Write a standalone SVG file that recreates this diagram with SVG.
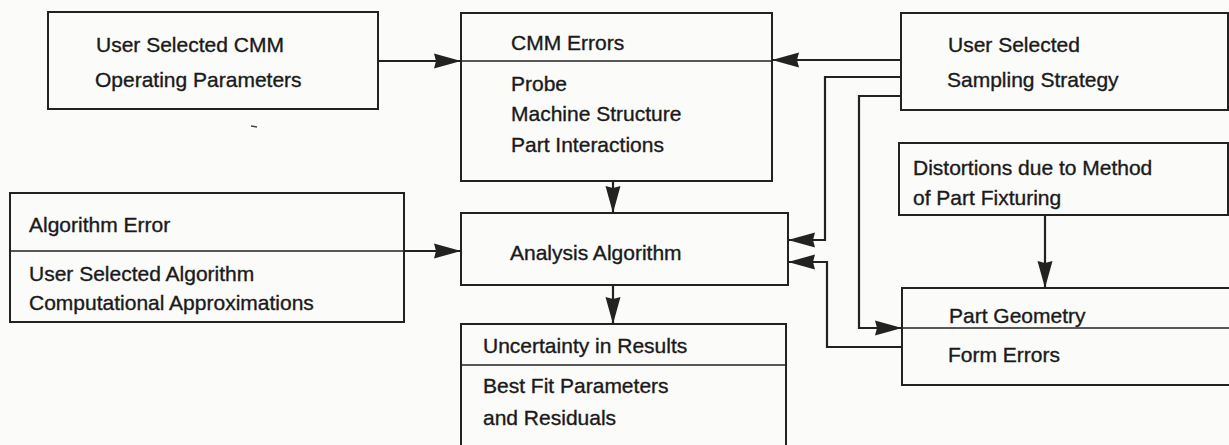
<svg xmlns="http://www.w3.org/2000/svg" width="1229" height="445" viewBox="0 0 1229 445">
  <style>
    .box { fill: none; stroke: #222; stroke-width: 2; }
    .div { stroke: #222; stroke-width: 1.6; }
    .wire { fill: none; stroke: #222; stroke-width: 2.2; }
    text { font-family: "Liberation Sans", Arial, Helvetica, sans-serif; font-size: 21px; fill: #1a1a1a; stroke: #1a1a1a; stroke-width: 0.35; }
  </style>
  <defs>
    <marker id="arrow" markerUnits="userSpaceOnUse" markerWidth="28" markerHeight="17" refX="27" refY="8" orient="auto">
      <path d="M0,0.5 L27,8 L0,15.5 L2,8 Z" fill="#222"/>
    </marker>
  </defs>

  <rect width="1229" height="445" fill="#fbfbf9"/>

  <!-- nodes -->
  <g id="cmm-params">
    <rect class="box" x="48" y="12" width="330" height="97"/>
    <text x="96" y="52">User Selected CMM</text>
    <text x="95" y="87">Operating Parameters</text>
  </g>

  <g id="cmm-errors">
    <rect class="box" x="461" y="13" width="311" height="168"/>
    <line class="div" x1="461" y1="61" x2="772" y2="61"/>
    <text x="511" y="50">CMM Errors</text>
    <text x="511" y="91">Probe</text>
    <text x="511" y="121">Machine Structure</text>
    <text x="511" y="152">Part Interactions</text>
  </g>

  <g id="sampling-strategy">
    <rect class="box" x="901" y="13" width="327" height="97"/>
    <text x="948" y="52">User Selected</text>
    <text x="947" y="87">Sampling Strategy</text>
  </g>

  <g id="fixturing">
    <rect class="box" x="899" y="143" width="329" height="72"/>
    <text x="913" y="175">Distortions due to Method</text>
    <text x="913" y="205">of Part Fixturing</text>
  </g>

  <g id="algorithm-error">
    <rect class="box" x="10" y="193" width="394" height="129"/>
    <line class="div" x1="10" y1="251" x2="404" y2="251"/>
    <text x="29" y="232">Algorithm Error</text>
    <text x="29" y="281">User Selected Algorithm</text>
    <text x="29" y="310">Computational Approximations</text>
  </g>

  <g id="analysis-algorithm">
    <rect class="box" x="461" y="213" width="327" height="72"/>
    <text x="510" y="260">Analysis Algorithm</text>
  </g>

  <g id="uncertainty">
    <path class="box" d="M461,447 V324 H786 V447"/>
    <line class="div" x1="461" y1="365" x2="786" y2="365"/>
    <text x="483" y="353">Uncertainty in Results</text>
    <text x="483" y="393">Best Fit Parameters</text>
    <text x="483" y="425">and Residuals</text>
  </g>

  <g id="part-geometry">
    <rect class="box" x="902" y="288" width="332" height="97"/>
    <line class="div" x1="902" y1="328" x2="1232" y2="328"/>
    <text x="949" y="323">Part Geometry</text>
    <text x="948" y="362">Form Errors</text>
  </g>

  <!-- small stray mark below the first box -->
  <line x1="251" y1="126" x2="257" y2="127" stroke="#444" stroke-width="1.5"/>

  <!-- connectors -->
  <g id="connectors">
    <path class="wire" d="M378,61 H461" marker-end="url(#arrow)"/>
    <path class="wire" d="M901,60 H772" marker-end="url(#arrow)"/>
    <path class="wire" d="M901,77 H825 V240 H788" marker-end="url(#arrow)"/>
    <path class="wire" d="M901,96 H859 V328 H902" marker-end="url(#arrow)"/>
    <path class="wire" d="M613,181 V213" marker-end="url(#arrow)"/>
    <path class="wire" d="M404,251 H461" marker-end="url(#arrow)"/>
    <path class="wire" d="M613,285 V324" marker-end="url(#arrow)"/>
    <path class="wire" d="M1045,215 V288" marker-end="url(#arrow)"/>
    <path class="wire" d="M902,347 H827 V262 H788" marker-end="url(#arrow)"/>
  </g>
</svg>
